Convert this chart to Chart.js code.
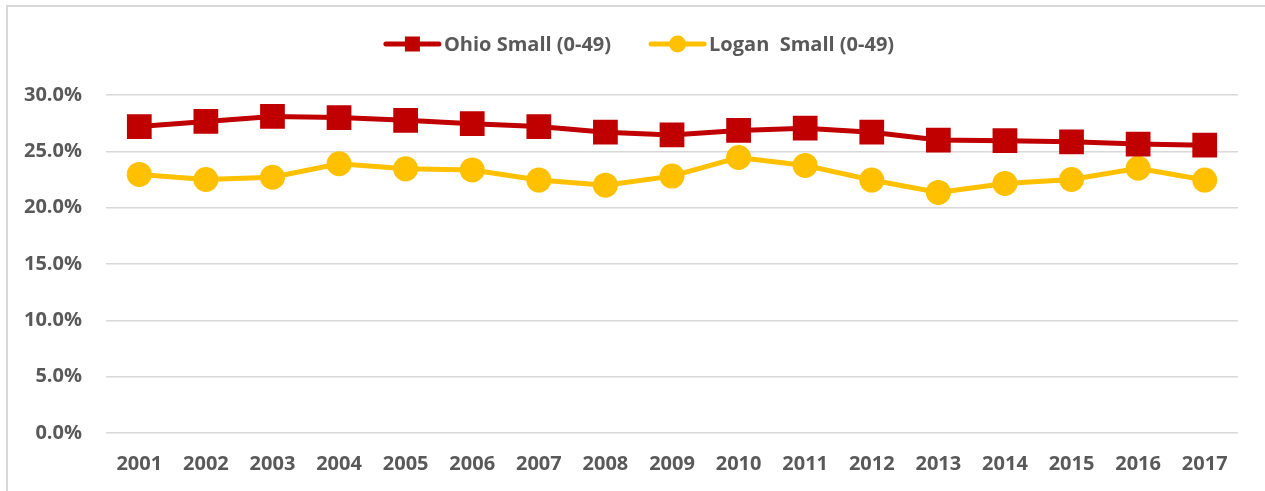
<!DOCTYPE html>
<html>
<head>
<meta charset="utf-8">
<script src="https://cdn.jsdelivr.net/npm/chart.js@4"></script>
<style>
  html, body { margin: 0; padding: 0; background: #fff; }
  #wrap { position: relative; width: 1265px; height: 491px; overflow: hidden; }
  #frame {
    position: absolute; left: 6px; top: 5px; width: 1300px; height: 500px;
    border-left: 2px solid #d9d9d9; border-top: 2px solid #d9d9d9;
  }
  canvas { position: absolute; left: 0; top: 0; }
</style>
</head>
<body>
<div id="wrap">
  <div id="frame"></div>
  <canvas id="chart" width="1265" height="491"></canvas>
</div>
<script>
const years = ["2001", "2002", "2003", "2004", "2005", "2006", "2007", "2008", "2009",
               "2010", "2011", "2012", "2013", "2014", "2015", "2016", "2017"];

// share of employment, percent
const ohioSmall  = [27.2, 27.65, 28.1, 28.0, 27.75, 27.45, 27.2, 26.7, 26.45,
                    26.85, 27.05, 26.7, 26.0, 25.95, 25.85, 25.65, 25.55];
const loganSmall = [22.95, 22.5, 22.7, 23.9, 23.45, 23.35, 22.45, 22.0, 22.8,
                    24.45, 23.75, 22.45, 21.35, 22.15, 22.5, 23.5, 22.45];

const yTicks = [0, 5, 10, 15, 20, 25, 30];

const RED = "#c00000";
const GOLD = "#ffc000";
const TEXT = "#595959";
const FONT = "'Open Sans', sans-serif";

// Excel style legend: line with the marker in the middle, then the label
const lineLegend = {
  id: "lineLegend",
  afterDraw(chart) {
    const ctx = chart.ctx;
    const items = [
      { label: "Ohio Small (0-49)", color: RED, shape: "rect" },
      { label: "Logan  Small (0-49)", color: GOLD, shape: "circle" }
    ];
    const lineLen = 57, textGap = 3, itemGap = 38;
    ctx.save();
    ctx.font = "bold 20px " + FONT;
    let total = 0;
    items.forEach((it, i) => {
      it.w = ctx.measureText(it.label).width;
      total += lineLen + textGap + it.w + (i ? itemGap : 0);
    });
    let x = 639 - total / 2;
    const y = 44;
    items.forEach((it, i) => {
      if (i) x += itemGap;
      ctx.strokeStyle = it.color;
      ctx.fillStyle = it.color;
      ctx.lineWidth = 5;
      ctx.lineCap = "round";
      ctx.beginPath();
      ctx.moveTo(x + 2, y);
      ctx.lineTo(x + lineLen - 2, y);
      ctx.stroke();
      const cx = x + lineLen / 2;
      if (it.shape === "rect") {
        ctx.fillRect(cx - 7.5, y - 7.5, 15, 15);
      } else {
        ctx.beginPath();
        ctx.arc(cx, y, 8.5, 0, Math.PI * 2);
        ctx.fill();
      }
      ctx.fillStyle = TEXT;
      ctx.textBaseline = "middle";
      ctx.textAlign = "left";
      ctx.fillText(it.label, x + lineLen + textGap, y + 1);
      x += lineLen + textGap + it.w;
    });
    ctx.restore();
  }
};

new Chart(document.getElementById("chart"), {
  type: "line",
  data: {
    labels: years,
    datasets: [
      {
        label: "Ohio Small (0-49)",
        data: ohioSmall,
        borderColor: RED,
        backgroundColor: RED,
        borderWidth: 5,
        pointStyle: "rect",
        pointRadius: 17.5,
        pointBorderWidth: 0,
        tension: 0
      },
      {
        label: "Logan  Small (0-49)",
        data: loganSmall,
        borderColor: GOLD,
        backgroundColor: GOLD,
        borderWidth: 5,
        pointStyle: "circle",
        pointRadius: 12.5,
        pointBorderWidth: 0,
        tension: 0
      }
    ]
  },
  options: {
    responsive: false,
    animation: false,
    layout: { padding: { left: 0, right: 27, top: 95, bottom: 0 } },
    plugins: {
      legend: { display: false },
      tooltip: { enabled: false }
    },
    scales: {
      x: {
        offset: true,
        grid: { display: false, drawTicks: false },
        border: { display: false },
        ticks: {
          color: TEXT,
          font: { family: FONT, size: 20, weight: "bold" },
          padding: 19,
          maxRotation: 0,
          autoSkip: false
        },
        afterFit(scale) { scale.height = 58; }
      },
      y: {
        min: yTicks[0],
        max: yTicks[yTicks.length - 1],
        afterBuildTicks(scale) { scale.ticks = yTicks.map(v => ({ value: v })); },
        grid: { color: "#d9d9d9", lineWidth: 1.5, drawTicks: false },
        border: { display: false },
        ticks: {
          color: TEXT,
          font: { family: FONT, size: 20, weight: "bold" },
          padding: 24,
          callback: v => v.toFixed(1) + "%"
        },
        afterFit(scale) { scale.width = 106; }
      }
    }
  },
  plugins: [lineLegend]
});
</script>
</body>
</html>
